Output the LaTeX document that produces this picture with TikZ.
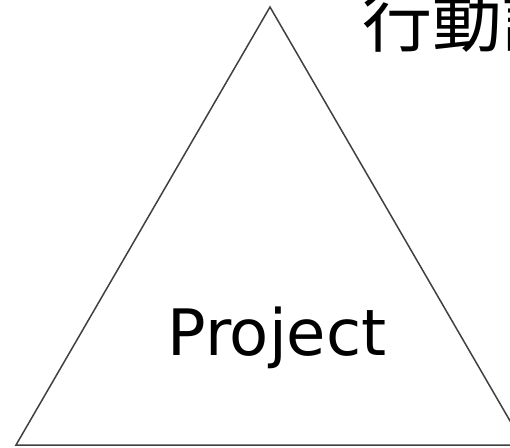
\documentclass[tikz,border=0pt]{standalone}
\usepackage{fontspec}
\setmainfont{DejaVu Sans}
\newfontfamily\cjk{Noto Sans CJK JP}
\begin{document}
\begin{tikzpicture}[x=1pt,y=-1pt,
  tri/.style={draw=black!75,line width=1.5pt,line join=miter},
  lbl/.style={inner sep=0pt,font=\fontsize{64}{64}\selectfont},
  cjklbl/.style={inner sep=0pt,font=\cjk\fontsize{70}{70}\selectfont}]
\useasboundingbox (0,0) rectangle (510,447);
\clip (0,0) rectangle (510,447);
\coordinate (apex) at (270,7);
\coordinate (bl) at (16,445);
\coordinate (br) at (524,445);
\draw[tri] (apex) -- (bl) -- (br) -- cycle;
\node[lbl,anchor=base] (proj) at (277,355) {Project};
\node[cjklbl,anchor=base west] (act) at (362,46) {行動計画};
\end{tikzpicture}
\end{document}
